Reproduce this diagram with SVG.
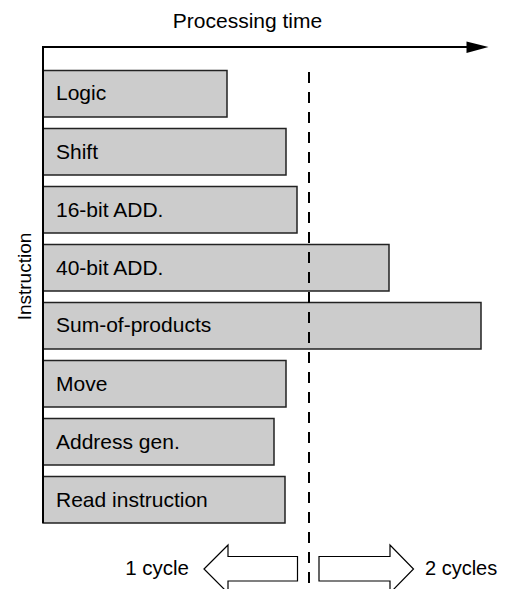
<svg xmlns="http://www.w3.org/2000/svg" width="506" height="589" viewBox="0 0 506 589">
<style>
.bar{fill:#cccccc;stroke:#222;stroke-width:1.5}
.lbl{font-family:"Liberation Sans",Arial,sans-serif;font-size:21px;fill:#000}
.ttl{font-family:"Liberation Sans",Arial,sans-serif;font-size:21px;fill:#000}
.ax{stroke:#000;stroke-width:2;fill:none}
.hol{fill:#fff;stroke:#000;stroke-width:1.2}
</style>
<rect width="506" height="589" fill="#fff"/>
<text class="ttl" x="247.5" y="28" text-anchor="middle">Processing time</text>
<text class="ttl" style="font-size:19px" transform="translate(31,276.5) rotate(-90)" text-anchor="middle">Instruction</text>
<g id="bar-logic"><rect class="bar" x="43" y="70.5" width="184" height="46.5"/><text class="lbl" x="56" y="100">Logic</text></g>
<g id="bar-shift"><rect class="bar" x="43" y="128.5" width="243" height="46.5"/><text class="lbl" x="56" y="158.5">Shift</text></g>
<g id="bar-add16"><rect class="bar" x="43" y="186.5" width="254" height="46.5"/><text class="lbl" x="56" y="216.5">16-bit ADD.</text></g>
<g id="bar-add40"><rect class="bar" x="43" y="244.5" width="346" height="46.5"/><text class="lbl" x="56" y="274.5">40-bit ADD.</text></g>
<g id="bar-sop"><rect class="bar" x="43" y="302.5" width="438" height="46.5"/><text class="lbl" x="56" y="332">Sum-of-products</text></g>
<g id="bar-move"><rect class="bar" x="43" y="360.5" width="243" height="46.5"/><text class="lbl" x="56" y="390.5">Move</text></g>
<g id="bar-addr"><rect class="bar" x="43" y="418.5" width="231" height="46.5"/><text class="lbl" x="56" y="448.5">Address gen.</text></g>
<g id="bar-read"><rect class="bar" x="43" y="476.5" width="242" height="46.5"/><text class="lbl" x="56" y="506.5">Read instruction</text></g>
<g id="connectors">
<path class="ax" d="M43,523 V47 H468"/>
<polygon points="466.5,41.5 488.5,47 466.5,53" fill="#000"/>
<line x1="309" y1="72" x2="309" y2="589" stroke="#000" stroke-width="2" stroke-dasharray="11,9"/>
</g>
<g id="one-cycle"><polygon class="hol" points="204,569 228,545 228,556.5 297.5,556.5 297.5,581 228,581 228,593"/><text class="ttl" style="font-size:20.5px" x="189" y="575" text-anchor="end">1 cycle</text></g>
<g id="two-cycles"><polygon class="hol" points="319,556.5 390,556.5 390,545 413.5,569 390,593 390,581 319,581"/><text class="ttl" style="font-size:20px" x="425" y="575">2 cycles</text></g>
</svg>
